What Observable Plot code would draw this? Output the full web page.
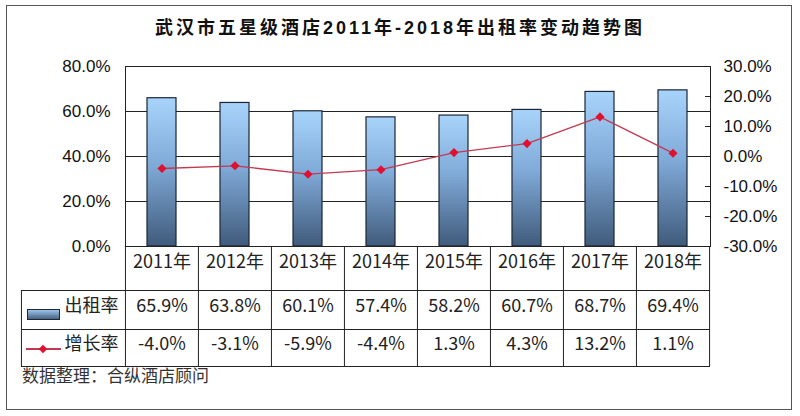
<!DOCTYPE html>
<html><head><meta charset="utf-8">
<script src="https://cdn.jsdelivr.net/npm/d3@7"></script>
<script src="https://cdn.jsdelivr.net/npm/@observablehq/plot@0.6"></script>
<style>
body{margin:0;background:#fff;}
#wrap{position:relative;width:800px;height:416px;overflow:hidden;background:#fff;}
#border{position:absolute;left:6px;top:5px;width:786px;height:405px;border:1.5px solid #555;box-sizing:border-box;}
#title{position:absolute;left:0;top:17px;width:800px;line-height:22px;text-align:center;font-weight:bold;font-size:18px;font-family:"Liberation Sans","Noto Sans CJK SC",sans-serif;letter-spacing:3px;color:#111;}
#chart{position:absolute;left:0;top:48px;}
#caption{position:absolute;left:22px;top:365px;font-size:17px;font-family:"Noto Sans CJK SC",sans-serif;line-height:20px;color:#333;}
#sw1{position:absolute;left:27px;top:309px;width:33px;height:11px;box-sizing:border-box;border:1px solid #1c2635;background:linear-gradient(to bottom,#9cc4ec,#47627f);}
#sw2{position:absolute;left:26px;top:348px;width:35px;height:1.5px;background:#c23a52;}
#sw2d{position:absolute;left:40px;top:345.5px;width:6px;height:6px;background:#e01030;transform:rotate(45deg);}
</style></head>
<body>
<div id="wrap">
  <div id="border"></div>
  <div id="title">武汉市五星级酒店2011年-2018年出租率变动趋势图</div>
  <div id="chart"></div>
  <div id="sw1"></div>
  <div id="sw2"></div><div id="sw2d"></div>
  <div id="caption">数据整理：合纵酒店顾问</div>
</div>
<script>
const years = ["2011","2012","2013","2014","2015","2016","2017","2018"];
const occupancy = [65.9, 63.8, 60.1, 57.4, 58.2, 60.7, 68.7, 69.4];
const growth = [-4.0, -3.1, -5.9, -4.4, 1.3, 4.3, 13.2, 1.1];
const leftTicks = [0, 20, 40, 60, 80];
const rightTicks = [-30, -20, -10, 0, 10, 20, 30];
const rowLabels = ["出租率", "增长率"];

const data = years.map((y, i) => ({year: y, occ: occupancy[i], g: growth[i]}));
const toLeft = g => (g + 30) * 80 / 60;
const fromLeft = v => Math.round(v * 60 / 80 - 30);

const W = 800, H = 322, mL = 125, mR = 90, mT = 18, mB = 124;
const plotW = W - mL - mR, frameH = H - mT - mB;
const step = plotW / years.length;
const r1 = 44, r2 = 83, r3 = 120;
const cjk = "Noto Sans CJK SC";
const fs = 17, tfs = 18;

const chart = Plot.plot({
  width: W, height: H,
  marginLeft: mL, marginRight: mR, marginTop: mT, marginBottom: mB,
  style: {fontFamily: "Liberation Sans, Arial, sans-serif", fontSize: "17px", color: "#111", background: "transparent", overflow: "visible"},
  x: {type: "band", domain: years, paddingInner: 0.6, paddingOuter: 0.3, axis: null},
  y: {domain: [0, 80], axis: null},
  marks: [
    Plot.ruleY([20, 40, 60], {stroke: "#222", strokeWidth: 1}),
    Plot.barY(data, {x: "year", y: "occ", fill: "url(#barGrad)", stroke: "#1c2635", strokeWidth: 1.2}),
    Plot.frame({stroke: "#222", strokeWidth: 1}),
    Plot.line(data, {x: "year", y: d => toLeft(d.g), stroke: "#c23a52", strokeWidth: 1.3}),
    Plot.dot(data, {x: "year", y: d => toLeft(d.g), symbol: "diamond2", r: 4.1, fill: "#e01030", stroke: "none"}),
    Plot.axisY(leftTicks, {anchor: "left", tickSize: 0, tickPadding: 15, tickFormat: d => d.toFixed(1) + "%", fontSize: fs, label: null}),
    Plot.axisY(rightTicks.map(toLeft), {anchor: "right", tickSize: 0, tickPadding: 13, tickFormat: v => fromLeft(v).toFixed(1) + "%", fontSize: fs, label: null}),
    Plot.ruleY(rightTicks.map(toLeft), {insetLeft: plotW - 5, stroke: "#222"}),
    // table grid
    Plot.ruleY([0], {dy: r1, insetLeft: -104, stroke: "#222"}),
    Plot.ruleY([0], {dy: r2, insetLeft: -104, stroke: "#222"}),
    Plot.ruleY([0], {dy: r3, insetLeft: -104, stroke: "#222"}),
    Plot.ruleX(data, {x: "year", dx: -step / 2, insetTop: frameH, insetBottom: -r3, stroke: "#222"}),
    Plot.ruleX(data.slice(-1), {x: "year", dx: step / 2, insetTop: frameH, insetBottom: -r3, stroke: "#222"}),
    Plot.ruleX(data.slice(0, 1), {x: "year", dx: -step / 2 - 104, insetTop: frameH + r1, insetBottom: -r3, stroke: "#222"}),
    // table text
    Plot.text(data, {x: "year", text: d => d.year + "年", frameAnchor: "bottom", dy: 21, fontSize: tfs, fontFamily: cjk, fill: "#222"}),
    Plot.text(data, {x: "year", text: d => d.occ.toFixed(1) + "%", frameAnchor: "bottom", dy: 65.5, fontSize: tfs, fontFamily: cjk, fill: "#222"}),
    Plot.text(data, {x: "year", text: d => d.g.toFixed(1) + "%", frameAnchor: "bottom", dy: 103.5, fontSize: tfs, fontFamily: cjk, fill: "#222"}),
    Plot.text([rowLabels[0]], {text: d => d, frameAnchor: "bottom-left", textAnchor: "end", dx: -7, dy: 65, fontSize: tfs, fontFamily: cjk, fill: "#222"}),
    Plot.text([rowLabels[1]], {text: d => d, frameAnchor: "bottom-left", textAnchor: "end", dx: -7, dy: 103, fontSize: tfs, fontFamily: cjk, fill: "#222"})
  ]
});

const defs = d3.select(chart).insert("defs", ":first-child");
const grad = defs.append("linearGradient").attr("id", "barGrad").attr("x1", 0).attr("y1", 0).attr("x2", 0).attr("y2", 1);
grad.append("stop").attr("offset", "0%").attr("stop-color", "#a8d4fb");
grad.append("stop").attr("offset", "45%").attr("stop-color", "#80aad8");
grad.append("stop").attr("offset", "100%").attr("stop-color", "#405b7b");

document.getElementById("chart").appendChild(chart);
</script>
</body></html>
